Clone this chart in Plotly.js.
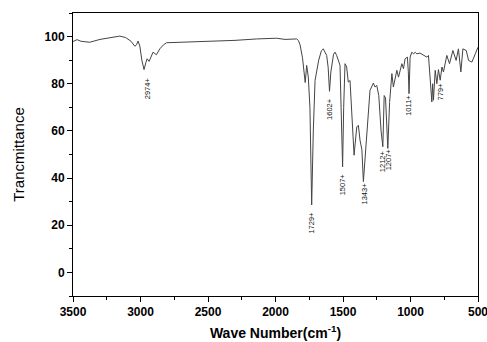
<!DOCTYPE html>
<html>
<head>
<meta charset="utf-8">
<script src="https://cdn.plot.ly/plotly-3.0.1.min.js"></script>
<style>html,body{margin:0;padding:0;background:#fff;}#chart{width:487px;height:342px;}</style>
</head>
<body>
<div id="chart"></div>
<script>
const wavenumber = [3500,3487,3470,3440,3376,3300,3200,3154,3110,3070,3042,3030,3018,3005,2990,2974,2960,2951,2936,2920,2907,2882,2857,2830,2807,2700,2600,2486,2300,2140,2050,1992,1930,1880,1843,1830,1818,1800,1788,1780,1769,1757,1745,1732,1720,1707,1680,1660,1646,1621,1610,1600,1590,1570,1559,1547,1522,1512,1503,1495,1485,1473,1461,1448,1436,1418,1398,1386,1374,1360,1349,1335,1324,1300,1275,1263,1250,1235,1218,1205,1195,1185,1168,1155,1138,1127,1101,1089,1064,1052,1040,1023,1016,1011,1006,1003,990,978,965,953,930,905,879,867,860,850,842,836,830,817,805,793,780,767,756,731,711,686,662,645,627,612,587,570,545,520,508,500];
const transmittance = [97.9,98.3,98.7,98.0,97.6,98.8,99.8,100.2,99.6,98.0,95.9,96.5,98.1,96.0,90.0,86.0,89.0,90.6,89.5,92.0,93.4,92.3,94.8,96.5,97.4,97.6,97.8,97.9,98.4,99.0,99.1,99.3,98.8,98.9,99.0,98.3,96.5,91.0,86.0,80.5,87.8,82.8,70.0,28.6,60.0,81.4,90.0,94.0,94.8,92.0,87.0,76.8,85.0,92.5,93.4,92.0,87.8,70.0,44.8,70.0,88.5,87.1,80.7,81.4,69.5,49.7,61.7,62.4,56.1,52.0,38.5,50.0,60.3,77.2,80.3,78.6,79.3,75.0,60.0,53.3,75.0,74.0,52.6,72.0,84.3,78.6,85.7,82.8,88.5,86.4,90.6,91.3,85.0,75.8,85.0,91.3,93.4,92.7,93.3,92.7,93.0,92.2,91.3,92.0,87.1,80.0,72.3,80.0,73.0,85.7,80.0,86.0,81.5,87.1,85.0,92.0,88.5,94.1,89.9,94.8,85.0,94.8,94.1,89.9,89.2,92.7,94.8,95.5];
const peakLabels = ['2974','1729','1602','1507','1343','1212','1207','1011','779'];
const peakX = [2946,1732,1601,1505,1344,1207,1166,1010,780];
const peakY = [83.5,26.5,75.0,43.0,39.0,52.5,53.5,76.0,81.5];
const xTicks = [3500,3000,2500,2000,1500,1000,500];
const yTicks = [0,20,40,60,80,100];

const annotations = peakLabels.map((t,i)=>({
  x: peakX[i], y: peakY[i], xref:'x', yref:'y',
  text: t + '+', textangle: -90, showarrow:false,
  xanchor:'center', yanchor:'top',
  font:{family:'Liberation Sans, Arial, sans-serif', size:7.5, color:'#111'}
}));

const trace = {
  x: wavenumber, y: transmittance, type:'scatter', mode:'lines',
  line:{color:'#444', width:1}, hoverinfo:'skip'
};

const layout = {
  width:487, height:342,
  margin:{l:73, r:9, t:13, b:46},
  paper_bgcolor:'#fff', plot_bgcolor:'#fff',
  showlegend:false,
  xaxis:{
    range:[3500,500], tickvals:xTicks, ticktext:xTicks.map(String),
    ticklabeloverflow:'allow',
    showgrid:false, zeroline:false, showline:true, mirror:true,
    linecolor:'#000', linewidth:1,
    ticks:'outside', ticklen:5, tickwidth:1, tickcolor:'#000',
    minor:{dtick:250, tick0:500, ticks:'outside', ticklen:3, tickcolor:'#000', showgrid:false},
    tickfont:{family:'Liberation Sans, Arial, sans-serif', size:12, color:'#000', weight:'bold'},
    title:{text:'Wave Number(cm<sup>-1</sup>)', standoff:9,
      font:{family:'Liberation Sans, Arial, sans-serif', size:14, color:'#000', weight:'bold'}}
  },
  yaxis:{
    range:[-10,110], tickvals:yTicks, ticktext:yTicks.map(String),
    showgrid:false, zeroline:false, showline:true, mirror:true,
    linecolor:'#000', linewidth:1,
    ticks:'outside', ticklen:5, tickwidth:1, tickcolor:'#000',
    minor:{dtick:10, tick0:0, ticks:'outside', ticklen:3, tickcolor:'#000', showgrid:false},
    tickfont:{family:'Liberation Sans, Arial, sans-serif', size:12, color:'#000', weight:'bold'},
    title:{text:'Trancmittance', standoff:16,
      font:{family:'Liberation Sans, Arial, sans-serif', size:15, color:'#000'}}
  },
  annotations: annotations
};

Plotly.newPlot('chart', [trace], layout, {staticPlot:true, displayModeBar:false});
</script>
</body>
</html>
